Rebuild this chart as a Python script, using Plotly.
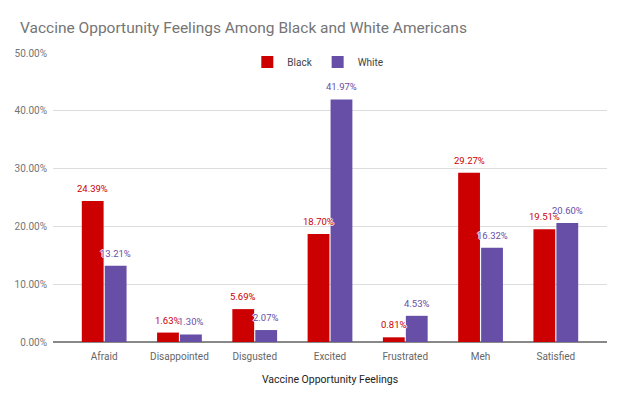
import plotly.graph_objects as go

categories = ["Afraid", "Disappointed", "Disgusted", "Excited", "Frustrated", "Meh", "Satisfied"]
black_values = [0.2439, 0.0163, 0.0569, 0.1870, 0.0081, 0.2927, 0.1951]
white_values = [0.1321, 0.0130, 0.0207, 0.4197, 0.0453, 0.1632, 0.2060]
series_names = ["Black", "White"]
y_ticks = [0, 0.1, 0.2, 0.3, 0.4, 0.5]

RED = "#cc0000"
PURPLE = "#674ea7"
FONT = "Roboto"
HALO = "1px 0 0 #fff, -1px 0 0 #fff, 0 1px 0 #fff, 0 -1px 0 #fff"

BARGAP = 0.39
GROUPGAP = 0.05

fig = go.Figure()
series = [(series_names[0], black_values, RED), (series_names[1], white_values, PURPLE)]
for name, vals, col in series:
    fig.add_trace(go.Bar(
        x=categories, y=vals, name=name,
        marker=dict(color=col, line=dict(width=0)),
        cliponaxis=False,
    ))

# value labels above each bar (offset to each bar's centre within its group)
half = (1 - BARGAP) / 2
for k, (name, vals, col) in enumerate(series):
    off = (k - 0.5) * half
    for i, v in enumerate(vals):
        fig.add_annotation(
            x=i + off, y=v, xref="x", yref="y",
            text=f"{v:.2%}", showarrow=False,
            yanchor="bottom", yshift=5,
            font=dict(family=FONT, size=9.5, color=col, shadow=HALO),
        )

fig.update_layout(
    width=624, height=399,
    margin=dict(l=53, r=17, t=53, b=57),
    paper_bgcolor="white", plot_bgcolor="white",
    font=dict(family=FONT, color="#757575"),
    title=dict(text="Vaccine Opportunity Feelings Among Black and White Americans",
               x=0.032, xanchor="left", y=0.932, yanchor="middle",
               font=dict(family=FONT, size=15.5, color="#757575")),
    barmode="group", bargap=BARGAP, bargroupgap=GROUPGAP,
    legend=dict(orientation="h", x=0.478, xanchor="center", y=0.969, yanchor="middle",
                bgcolor="rgba(0,0,0,0)", font=dict(family=FONT, size=10, color="#444444"),
                itemwidth=30),
    showlegend=True,
)
fig.update_xaxes(
    range=[-0.68, 6.68], showgrid=False, showline=False, zeroline=False,
    ticks="outside", ticklen=5, tickcolor="rgba(0,0,0,0)",
    tickfont=dict(family=FONT, size=10, color="#666666"),
    title=dict(text="Vaccine Opportunity Feelings", standoff=14,
               font=dict(family=FONT, size=10.5, color="#222222")),
)
fig.update_yaxes(
    range=[0, 0.5], tickvals=y_ticks, tickformat=".2%",
    showgrid=True, gridcolor="#dddddd", gridwidth=1,
    zeroline=True, zerolinecolor="#888888", zerolinewidth=1.5,
    showline=False, ticks="", ticklabelstandoff=5,
    tickfont=dict(family=FONT, size=10, color="#757575"),
)

fig.write_html("out.html", config={"displayModeBar": False},
               post_script="document.body.style.margin='0';")
